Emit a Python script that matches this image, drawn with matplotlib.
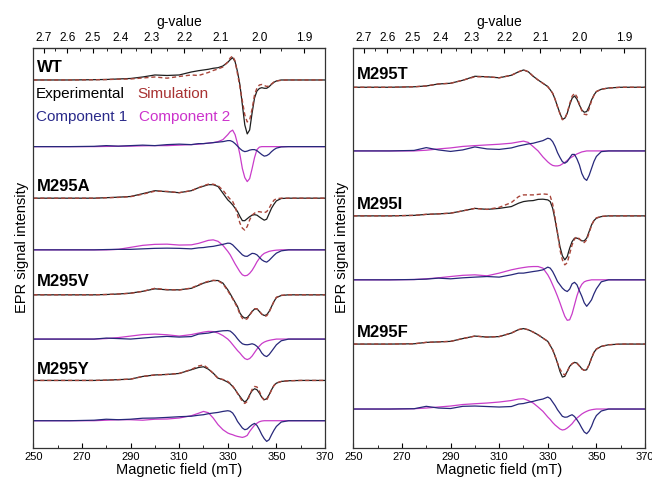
import numpy as np
import matplotlib.pyplot as plt
from matplotlib.ticker import MultipleLocator, FixedLocator

plt.rcParams['font.family'] = ['Liberation Sans', 'DejaVu Sans']

# magnetic field grid (mT) shared by all traces
field = [250, 265, 275, 280, 285, 290, 295, 300, 305, 310,
         315, 318, 320, 322, 324, 326, 328,
         330, 331, 332, 333, 334, 335, 336, 337, 338, 339, 340,
         341, 342, 343, 344, 345, 346, 347, 348, 349, 350,
         352, 355, 360, 370]

# ---- left panel ----
wt_exp = [0, 0, 0.3, 0.5, 1, 1.5, 3, 5, 4.5, 5,
          8, 9.3, 10, 10.7, 11.7, 12.3, 14,
          17.7, 20.3, 22.3, 18.3, 8.3, -5, -25, -45, -54, -50, -33,
          -18, -11, -8.5, -7.7, -8.3, -8.3, -6.7, -4.3, -2.3, -1,
          0, 0, 0, 0]
wt_sim = [0, 0, 0.2, 0.4, 0.8, 1, 2, 3, 1.8, 3.5,
          5, 4.5, 6, 7.5, 9.5, 11, 13,
          18, 22, 24, 19, 6, -7, -21, -35, -42, -40, -29,
          -15, -8, -5, -4.5, -5.5, -6.5, -6, -4, -2, -1,
          -0.3, 0, 0, 0]
wt_c1 = [0, 0, 0.3, 1, 0.5, 1, 1.5, 1, 2, 2.5,
         2, 3, 3, 3.5, 4, 4.5, 5,
         6, 6, 5, 3, 0.5, -2, -4, -5, -4.5, -3.5, -3,
         -3, -4, -6, -8, -9.5, -9, -7.5, -5, -3, -1.5,
         -0.3, 0, 0, 0]
wt_c2 = [0, 0, 0, 0.2, 0.3, 0.5, 0.8, 1, 1, 1.5,
         2, 2.5, 3, 3.5, 4, 5, 7,
         12, 15, 16.5, 12, 3, -8, -22, -31, -35, -32, -22,
         -11, -3, -0.5, 0, 0, 0, 0, 0, 0, 0,
         0, 0, 0, 0]

a_exp = [0, 0, 0, 0.5, 1, 1.7, 4.5, 7.5, 6.5, 5.5,
         7.5, 10.5, 12, 13.5, 13.5, 11.7, 5,
         -1.7, -4, -6.7, -10, -13.3, -18.3, -22.5, -22.5, -20.5, -18.5, -17,
         -16.5, -17, -18.8, -20.5, -22, -21, -15.5, -10, -6, -2.7,
         -0.3, 0, 0, 0]
a_sim = [0, 0, 0, 0.4, 0.8, 1.5, 4, 7, 6.8, 5.5,
         7.5, 10.5, 12.5, 14, 14, 12.5, 8,
         1.7, -1, -3.3, -8.3, -16.7, -25, -30, -32, -28.3, -21.7, -17,
         -15, -13.5, -13.5, -14, -14.5, -13.5, -10, -5.5, -2, -0.5,
         0, 0, 0, 0]
a_c1 = [0, 0, 0, 0.3, 0.5, 0.5, 1, 1.5, 1.7, 1.5,
        1, 2, 2.3, 3, 3.5, 4.5, 5.5,
        6.7, 6.5, 5, 2.5, 0, -2.5, -5, -6.3, -6.5, -5, -3.5,
        -3.8, -5, -7.5, -10, -11.5, -12.3, -10.5, -8, -5.5, -3.3,
        -1, 0, 0, 0]
a_c2 = [0, 0, 0, 0, 0.5, 2.5, 4.5, 5.5, 5.7, 4.8,
        5, 6.5, 8, 9.5, 10, 8.5, 4.5,
        -1.5, -5, -9.5, -14, -18, -22, -25, -26, -25.5, -23.5, -20.5,
        -16.5, -12, -8.5, -5.5, -3.5, -2.5, -1.5, -1, -0.6, -0.3,
        0, 0, 0, 0]

v_exp = [0, 0, 0, 0.3, 0.8, 1.7, 3.5, 6, 5, 5,
         6.5, 9.5, 11.7, 13, 14.3, 14.3, 11.7,
         5, 1, -3.3, -7.5, -11.7, -18.3, -21.7, -23.3, -22.7, -20, -16.7,
         -14.3, -14, -16.7, -19.3, -20.7, -20, -16.7, -11.7, -6.7, -2.7,
         -0.7, 0, 0, 0]
v_sim = [0, 0, 0, 0.3, 0.8, 1.5, 3.5, 6.5, 5.2, 4.8,
         6.8, 10, 12, 13.5, 14.5, 14, 11,
         4, 0, -4, -8.5, -13, -19.5, -23.5, -25, -24, -20.5, -16.5,
         -14, -14, -16.5, -19.5, -21.5, -21, -17.5, -12, -6.5, -2.5,
         -0.5, 0, 0, 0]
v_c1 = [0, 0, 0, 1, 0.5, 0, 1, 2, 2.7, 2,
        2.5, 5, 5.5, 6, 7, 7.7, 8.3,
        8.5, 8, 6, 3.5, 0.3, -2.5, -4.7, -5.5, -5.7, -5.3, -4.7,
        -5.5, -7.3, -10, -14, -16.5, -17.5, -15.5, -12.3, -9, -5.7,
        -1.7, 0, 0, 0]
v_c2 = [0, 0, 0, 0.5, 1.5, 3, 4.5, 5, 4.3, 3,
        4.5, 6, 7, 7.7, 7.5, 6, 3.5,
        0, -2.5, -5.5, -8.5, -11.5, -14, -17, -19.5, -20.5, -19.5, -17,
        -13.5, -10, -7, -4.5, -3, -2, -1.3, -0.8, -0.4, 0,
        0, 0, 0, 0]

y_exp = [0, 0, 0, 0.3, 0.8, 1.3, 4, 5.5, 6, 7,
         10.7, 13, 13.7, 11.3, 7.3, 2.3, 0.7,
         -1.7, -3.5, -6, -9, -12.7, -16, -19.3, -21.7, -19.3, -14.3, -10.3,
         -8.3, -9.3, -12.7, -17, -19.3, -18.3, -14.3, -9.3, -5, -2.7,
         -1, -0.3, 0, 0]
y_sim = [0, 0, 0, 0.3, 0.8, 1.3, 4, 5.5, 6, 7,
         11, 14.5, 15.5, 12, 7, 2, 1,
         -1, -3, -5.5, -9, -13, -17, -21, -23, -21, -15, -9,
         -6, -6.5, -11, -16.5, -20, -19.5, -15, -9.5, -5, -2.5,
         -1, -0.3, 0, 0]
y_c1 = [0, 0, 0.5, 1.5, 1, 1.5, 2.5, 2.7, 3.3, 4,
        4.5, 5.5, 6, 7, 7.7, 8.3, 9.3,
        10, 9.5, 7.7, 4, -0.7, -4, -7.3, -9, -8.3, -6, -4,
        -2.7, -4.7, -9, -14, -18, -20.7, -19, -14, -9.5, -5.7,
        -1.3, 0, 0, 0]
y_c2 = [0, 0, 0, 0.5, 1, 1, 0.5, 1.5, 1.7, 2.7,
        5, 7.5, 9.3, 8, 2.7, -4, -9,
        -12.3, -13.3, -14, -15, -15.7, -16.2, -16.7, -16, -14.7, -10.7, -7.5,
        -4.5, -2.5, -1, -0.3, 0, 0, 0, 0, 0, 0,
        0, 0, 0, 0]

# ---- right panel ----
t_exp = [0, 0, 0.5, 1.3, 3.3, 4, 7, 11, 10.5, 9.5,
         12, 15.5, 17.3, 15.5, 11, 7.3, 4,
         0.7, -2.5, -6, -12, -19.3, -26, -32, -31, -26, -17.7, -11,
         -8.7, -12, -17.7, -22.7, -25, -24.3, -19.3, -12.7, -7.7, -4.3,
         -2, -0.7, 0, 0]
t_sim = [0, 0, 0.5, 1.3, 3.3, 4, 7, 10.5, 10.5, 9.5,
         12, 15.5, 17.5, 15.5, 11, 7.3, 4,
         0.5, -2.5, -6, -12, -19.5, -26.5, -32.5, -31.5, -25.5, -16.5, -9,
         -6, -9.5, -17, -23.5, -27, -27.5, -21.5, -13.5, -8, -4.3,
         -2, -0.7, 0, 0]
t_c1 = [0, 0, 0.5, 3.3, 1, -0.5, 1, 4, 2, 1.5,
        3, 5, 6, 7, 7.7, 9, 10.3,
        12.7, 12, 9.3, 4.5, -1.7, -6.5, -10.7, -12.3, -10.7, -7, -3.5,
        -3.5, -8, -14, -22.5, -27.5, -29.5, -24.5, -17.5, -10.5, -5.5,
        -0.7, 0, 0, 0]
t_c2 = [0, 0, 0, 0.7, 2, 3, 4.5, 5.3, 6, 6.7,
        7.7, 9, 9.8, 8.5, 4.3, 0, -6,
        -11, -13, -14.5, -15, -15, -14.5, -13, -11.5, -9.5, -7.5, -6,
        -4.5, -3, -2, -1, -0.5, 0, 0, 0, 0, 0,
        0, 0, 0, 0]

i_exp = [0, 0, 0.5, 1.5, 2, 2.7, 5, 7.5, 6.5, 7.5,
         9.3, 12.7, 14.3, 15, 15.3, 16.5, 16.7,
         16, 14.3, 7.7, -4, -17.3, -30.7, -40, -44, -40.7, -32.3, -25.7,
         -22.3, -22.3, -23.3, -25, -25, -22.3, -15.7, -9, -4.7, -2.3,
         -0.7, 0, 0, 0]
i_sim = [0, 0, 0.5, 1.5, 2, 2.7, 5, 7.5, 6.5, 8.5,
         13.3, 19.3, 21, 21, 21, 21.5, 22,
         21.5, 19.7, 12, -2, -17, -34, -44, -49, -47, -38, -29,
         -23.3, -20.7, -23, -25.7, -26.7, -24, -17, -9.5, -4.5, -2,
         -0.5, 0, 0, 0]
i_c1 = [0, 0, 0.3, 0.7, 1.7, 1, 2, 2.7, 3.3, 2.7,
        5, 6.7, 6.7, 7.5, 8.3, 9, 10,
        12.7, 11.7, 8.3, 3.5, -1.7, -5, -8.3, -10.5, -11.7, -9.3, -4,
        -2.5, -5, -11, -16.5, -23, -26.5, -23.5, -20, -14, -9,
        -2, 0, 0, 0]
i_c2 = [0, 0, 0.3, 1, 2, 3.3, 4.5, 5, 4, 6.7,
        10, 11.5, 12.3, 13, 13.3, 13.3, 11.7,
        5, 0.5, -5, -10.5, -16.5, -23, -30, -36.5, -40.5, -40, -34,
        -25, -16, -9, -4.5, -2, -1, -0.5, 0, 0, 0,
        0, 0, 0, 0]

f_exp = [0, 0, 0.3, 1.7, 2.2, 2.7, 5.5, 8, 7, 7.5,
         11, 14.5, 15.5, 14.3, 12, 9.3, 6,
         2.7, -1.5, -5.7, -12, -19, -27.3, -33, -32.3, -27.3, -22.3, -19.7,
         -18.3, -19, -21.7, -24.7, -26.3, -25.7, -20.7, -14, -8.3, -5,
         -2.3, -0.7, 0, 0]
f_sim = [0, 0, 0.3, 1.7, 2.2, 2.7, 5.5, 8, 7, 7.5,
         11, 14.5, 15.5, 14.3, 12, 9.3, 6,
         2.7, -1.5, -5.7, -12, -19, -25, -29, -31, -27.5, -22.3, -19.7,
         -18.3, -19.3, -22, -25, -26.3, -25.5, -20.5, -14, -8.3, -5,
         -2.3, -0.7, 0, 0]
f_c1 = [0, 0, 0.3, 2.7, 1, 0.5, 2.7, 3, 2.5, 2,
        2.5, 5, 5.5, 6.7, 7.7, 9, 10,
        12, 10.5, 7, 3.5, -0.7, -4, -7.3, -8.2, -8, -6.7, -5.7,
        -7.5, -10.7, -14.5, -19, -23, -24.7, -22, -17.3, -11, -6.5,
        -2, 0, 0, 0]
f_c2 = [0, 0, 0.3, 1, 2, 3, 4.5, 5.3, 6, 7,
        8.5, 10, 10.3, 8.5, 6, 2, -2.3,
        -8, -10.5, -13.5, -16, -18, -20, -21, -20.5, -19, -17, -14.7,
        -11.5, -9, -7, -5, -3.5, -2.3, -1.3, -0.7, -0.3, 0,
        0, 0, 0, 0]

left_names = ['WT', 'M295A', 'M295V', 'M295Y']
left_exp_base = [368, 249.7, 153, 67.3]
left_comp_base = [301.3, 198, 108.7, 27]
left_name_y = [380, 261.3, 166.3, 78]
left_traces = [(wt_exp, wt_sim, wt_c1, wt_c2), (a_exp, a_sim, a_c1, a_c2),
               (v_exp, v_sim, v_c1, v_c2), (y_exp, y_sim, y_c1, y_c2)]

right_names = ['M295T', 'M295I', 'M295F']
right_exp_base = [360.7, 232, 103.7]
right_comp_base = [297, 168, 38.7]
right_name_y = [373, 243, 115.7]
right_traces = [(t_exp, t_sim, t_c1, t_c2), (i_exp, i_sim, i_c1, i_c2),
                (f_exp, f_sim, f_c1, f_c2)]

g_ticks = [2.7, 2.6, 2.5, 2.4, 2.3, 2.2, 2.1, 2.0, 1.9]

c_exp = '#1e1e1e'
c_sim = '#a8453a'
c_c1 = '#27287a'
c_c2 = '#c93cc9'

fig = plt.figure(figsize=(6.52, 4.8), dpi=100)
ax_l = fig.add_axes([0.0511, 0.0673, 0.4474, 0.8327])
ax_r = fig.add_axes([0.5419, 0.0673, 0.4474, 0.8327])

B = np.array(field)


def b2g(b):
    return 686.5 / np.asarray(b, dtype=float)


def draw_panel(ax, names, exp_base, comp_base, name_y, traces, lpad):
    for name, eb, cb, ny, (ex, sim, c1, c2) in zip(names, exp_base, comp_base, name_y, traces):
        ax.plot(B, eb + np.array(ex), color=c_exp, lw=0.9)
        ax.plot(B, eb + np.array(sim), color=c_sim, lw=1.0, ls=(0, (3, 2)))
        ax.plot(B, cb + np.array(c2), color=c_c2, lw=0.9)
        ax.plot(B, cb + np.array(c1), color=c_c1, lw=0.9)
        ax.text(251.5, ny, name, fontsize=12, fontweight='bold', va='center', ha='left')
    ax.set_xlim(250, 370)
    ax.set_ylim(0, 400)
    ax.set_yticks([])
    ax.set_xticks(np.arange(250, 371, 20))
    ax.xaxis.set_minor_locator(MultipleLocator(10))
    ax.tick_params(axis='x', which='both', direction='in', labelsize=8, pad=3)
    ax.tick_params(axis='x', which='major', length=3.5)
    ax.tick_params(axis='x', which='minor', length=2)
    ax.set_xlabel('Magnetic field (mT)', fontsize=10.5, labelpad=1)
    ax.set_ylabel('EPR signal intensity', fontsize=10.5, labelpad=lpad)
    sec = ax.secondary_xaxis('top', functions=(b2g, b2g))
    sec.set_xticks(g_ticks)
    sec.set_xticklabels(['%.1f' % g for g in g_ticks])
    sec.xaxis.set_minor_locator(FixedLocator(np.arange(1.85, 2.76, 0.05)))
    sec.tick_params(axis='x', which='both', direction='in', labelsize=8.5, pad=3)
    sec.tick_params(axis='x', which='major', length=3.5)
    sec.tick_params(axis='x', which='minor', length=2)
    sec.set_xlabel('g-value', fontsize=10, labelpad=4)
    for s in ax.spines.values():
        s.set_linewidth(0.9)
        s.set_color('#333333')


draw_panel(ax_l, left_names, left_exp_base, left_comp_base, left_name_y, left_traces, 3)
draw_panel(ax_r, right_names, right_exp_base, right_comp_base, right_name_y, right_traces, 3)

# legend-like labels in the WT panel
ax_l.text(251.1, 353.7, 'Experimental', color='black', fontsize=11, va='center')
ax_l.text(292.6, 353.7, 'Simulation', color='#a83232', fontsize=11, va='center')
ax_l.text(251.1, 331.3, 'Component 1', color='#2a2a8a', fontsize=11, va='center')
ax_l.text(293.4, 331.3, 'Component 2', color='#cc33cc', fontsize=11, va='center')

fig.savefig('out.png', dpi=100)
